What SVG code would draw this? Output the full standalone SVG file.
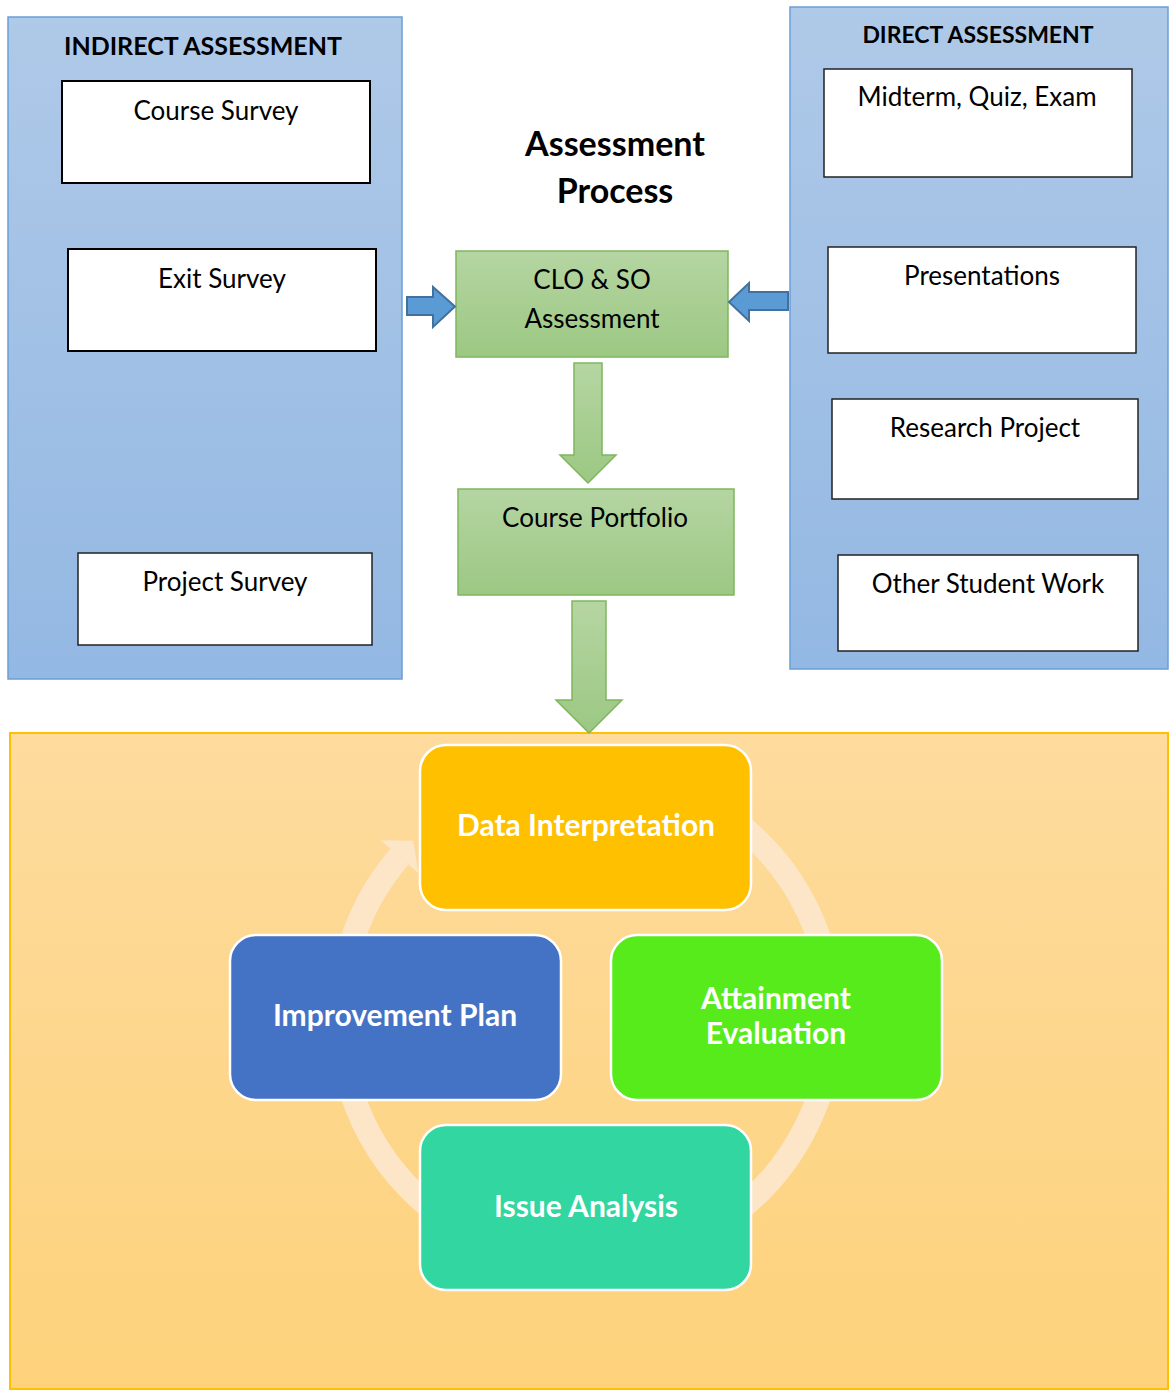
<svg xmlns="http://www.w3.org/2000/svg" width="1172" height="1390" viewBox="0 0 1172 1390">
<defs>
<linearGradient id="gBlue" x1="0" y1="0" x2="0" y2="1"><stop offset="0" stop-color="#afc9e8"/><stop offset="1" stop-color="#93b8e3"/></linearGradient>
<linearGradient id="gGreen" x1="0" y1="0" x2="0" y2="1"><stop offset="0" stop-color="#b5d5a2"/><stop offset="1" stop-color="#9cc883"/></linearGradient>
<linearGradient id="gOrange" x1="0" y1="0" x2="0" y2="1"><stop offset="0" stop-color="#fedb9e"/><stop offset="1" stop-color="#fdd27b"/></linearGradient>
<style>
text{font-family:Lato,"Open Sans","Liberation Sans",sans-serif;text-anchor:middle;}
.panel{fill:url(#gBlue);stroke:#6a9fd6;stroke-width:1.5;}
.item{fill:#fff;stroke:#000;stroke-width:2;}
.itemR{fill:#fff;stroke:#222;stroke-width:1.5;}
.lbl{font-size:26px;fill:#000;}
.hdr{font-size:25px;font-weight:bold;fill:#000;}
.green{fill:url(#gGreen);stroke:#7fb65d;stroke-width:1.5;}
.barrow{fill:#5b9bd5;stroke:#41719c;stroke-width:2;}
.cyc{stroke:#fff;stroke-width:2.5;}
.ct{font-size:30px;font-weight:bold;fill:#fff;}
</style>
</defs>
<rect width="1172" height="1390" fill="#fff"/>

<g id="indirect">
<rect class="panel" x="8" y="17" width="394" height="662"/>
<text class="hdr" x="203" y="55">INDIRECT ASSESSMENT</text>
</g>
<g id="course-survey"><rect class="item" x="62" y="81" width="308" height="102"/><text class="lbl" x="216" y="120">Course Survey</text></g>
<g id="exit-survey"><rect class="item" x="68" y="249" width="308" height="102"/><text class="lbl" x="222" y="288">Exit Survey</text></g>
<g id="project-survey"><rect class="itemR" x="78" y="553" width="294" height="92"/><text class="lbl" x="225" y="591">Project Survey</text></g>

<g id="direct">
<rect class="panel" x="790" y="7" width="378" height="662"/>
<text class="hdr" x="978" y="43" style="font-size:23px">DIRECT ASSESSMENT</text>
</g>
<g id="midterm"><rect class="itemR" x="824" y="69" width="308" height="108"/><text class="lbl" x="977" y="106">Midterm, Quiz, Exam</text></g>
<g id="presentations"><rect class="itemR" x="828" y="247" width="308" height="106"/><text class="lbl" x="982" y="285">Presentations</text></g>
<g id="research"><rect class="itemR" x="832" y="399" width="306" height="100"/><text class="lbl" x="985" y="437">Research Project</text></g>
<g id="other"><rect class="itemR" x="838" y="555" width="300" height="96"/><text class="lbl" x="988" y="593">Other Student Work</text></g>

<g id="title">
<text x="615" y="156" style="font-size:34px;font-weight:bold;fill:#000">Assessment</text>
<text x="615" y="203" style="font-size:34px;font-weight:bold;fill:#000">Process</text>
</g>

<g id="clo"><rect class="green" x="456" y="251" width="272" height="106"/>
<text class="lbl" x="592" y="289">CLO &amp; SO</text><text class="lbl" x="592" y="328">Assessment</text></g>

<g id="portfolio"><rect class="green" x="458" y="489" width="276" height="106"/>
<text class="lbl" x="595" y="527">Course Portfolio</text></g>

<g id="bottom-panel">
<rect x="10" y="733" width="1158" height="656" fill="url(#gOrange)" stroke="#ffc000" stroke-width="2"/>
</g>

<g id="connectors">
<path class="barrow" d="M407,297 H433 V287 L455,306.5 L433,327 V315 H407 Z"/>
<path class="barrow" d="M788,292 H749 V283 L729,302 L749,321 V310 H788 Z"/>
<path class="green" d="M574,363 H602 V455 H616 L588,483 L560,455 H574 Z"/>
<path class="green" d="M572,601 H606 V700 H622 L589,733 L556,700 H572 Z"/>
<path d="M502.2,785.8 A246,246 0 1 1 399.5,856.6" fill="none" stroke="#fde6c8" stroke-width="24"/>
<path d="M380.5,840.3 L413.2,840.7 L418.4,872.9 Z" fill="#fde6c8"/>
</g>

<g id="data-interp"><rect class="cyc" x="420" y="745" width="331" height="165" rx="26" fill="#ffc000"/>
<text class="ct" x="586" y="836">Data Interpretation</text></g>
<g id="improvement"><rect class="cyc" x="230" y="935" width="331" height="165" rx="26" fill="#4472c4"/>
<text class="ct" x="395" y="1026">Improvement Plan</text></g>
<g id="attainment"><rect class="cyc" x="611" y="935" width="331" height="165" rx="26" fill="#57eb1c"/>
<text class="ct" x="776" y="1009">Attainment</text><text class="ct" x="776" y="1044">Evaluation</text></g>
<g id="issue"><rect class="cyc" x="420" y="1125" width="331" height="165" rx="26" fill="#31d6a0"/>
<text class="ct" x="586" y="1217">Issue Analysis</text></g>
</svg>
